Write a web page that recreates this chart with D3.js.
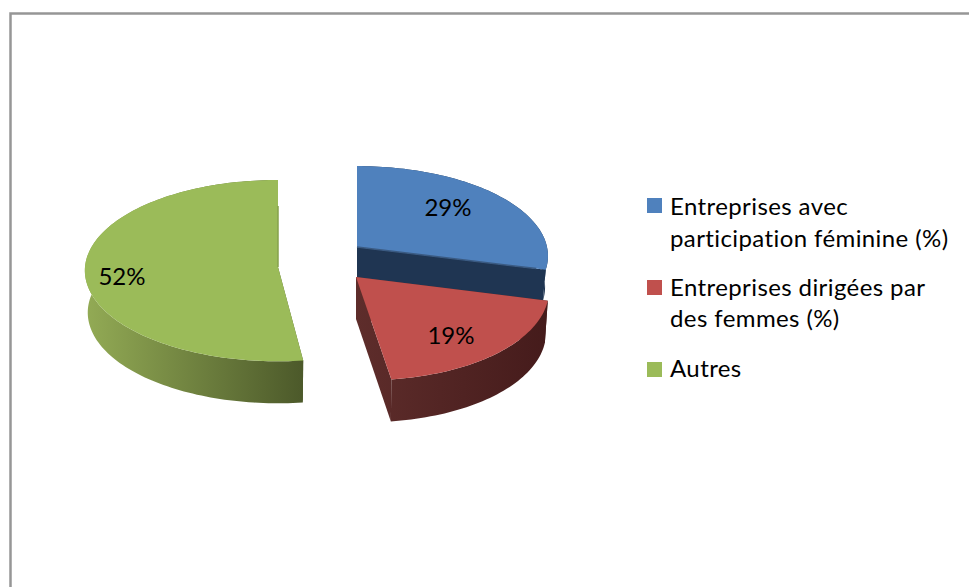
<!DOCTYPE html>
<html>
<head>
<meta charset="utf-8">
<script src="https://cdn.jsdelivr.net/npm/d3@7"></script>
<style>
  html, body { margin: 0; padding: 0; background: #fff; overflow: hidden; }
  text { font-family: Lato, "Open Sans", sans-serif; fill: #000; }
</style>
</head>
<body>
<div id="chart"></div>
<script>
// Chart values
const categories = ["Entreprises avec participation féminine (%)", "Entreprises dirigées par des femmes (%)", "Autres"];
const shares = [29, 19, 52];
const colors = ["#4f81bd", "#c0504d", "#9bbb59"];
const legendLines = [["Entreprises avec", "participation féminine (%)"], ["Entreprises dirigées par", "des femmes (%)"], ["Autres"]];

// Side wall shading, left to right
const wallLeft = ["#1f3552", "#5e2d2b", "#93ab55"];
const wallRight = ["#1f3552", "#451b1b", "#4c592a"];
const edgeColors = ["#3a5a82", null, "#86a24c"];

// Where each exploded slice sits: apex, radii, perspective
const sliceLayout = [
    {cx: 357, cy: 247, rx: 190, ry: 89, k: 0.1, skew: 0, depth: 31, edge: 0.95},
    {cx: 356, cy: 277, rx: 191, ry: 93, k: 0.1, skew: -8, depth: 42, edge: 0},
    {cx: 278, cy: 267, rx: 193, ry: 90.5, k: 0.04, skew: 0, depth: 42, edge: 0.7}
];
const labelPos = [[448, 208], [451, 336], [122, 277]];

const width = 969, height = 587;

const svg = d3.select("#chart").append("svg")
    .attr("width", width)
    .attr("height", height)
    .style("display", "block");

// Chart frame, open on the right and bottom where the picture crops it
svg.append("path")
    .attr("d", d3.line()([[10.5, height], [10.5, 13.5], [width, 13.5]]))
    .attr("fill", "none")
    .attr("stroke", "#969696")
    .attr("stroke-width", 2.5);

const pie = d3.pie().sort(null).value(d => d);
const slices = pie(shares);
const line = d3.line();

// Disc position of angle a (clockwise from the back) projected on screen
function project(s, a) {
    const u = Math.sin(a), v = Math.cos(a), p = 1 + s.k * v;
    return [s.cx + (s.rx * u + s.skew * v) / p, s.cy - s.ry * v / p];
}

const defs = svg.append("defs");
const groups = svg.append("g");

// Blue first, then green, then red in front so it covers the blue wall
[0, 2, 1].forEach(i => {
    const d = slices[i], s = sliceLayout[i];
    const n = Math.ceil((d.endAngle - d.startAngle) * 40);
    const rim = d3.range(n + 1).map(j => project(s, d.startAngle + (d.endAngle - d.startAngle) * j / n));
    const apex = [s.cx, s.cy];
    const drop = p => [s.cx + (p[0] - s.cx) * 0.985, p[1] + s.depth];

    const xs = rim.map(p => p[0]).concat(s.cx);
    const grad = defs.append("linearGradient")
        .attr("id", "wall" + i)
        .attr("gradientUnits", "userSpaceOnUse")
        .attr("x1", d3.min(xs)).attr("x2", d3.max(xs))
        .attr("y1", 0).attr("y2", 0);
    grad.append("stop").attr("offset", 0).attr("stop-color", wallLeft[i]);
    grad.append("stop").attr("offset", 1).attr("stop-color", wallRight[i]);

    const g = groups.append("g");
    const wall = [
        rim.concat(rim.map(drop).reverse()),
        [apex, rim[0], drop(rim[0]), drop(apex)],
        [apex, rim[n], drop(rim[n]), drop(apex)]
    ];
    g.selectAll("path.wall").data(wall).enter().append("path")
        .attr("class", "wall")
        .attr("d", p => line(p) + "Z")
        .attr("fill", "url(#wall" + i + ")");

    g.append("path")
        .attr("d", line([apex].concat(rim)) + "Z")
        .attr("fill", colors[i]);

    // Thin sliver of the cut face showing along the back edge
    if (edgeColors[i]) {
        const from = [apex[0] + s.edge * (rim[n][0] - apex[0]), apex[1] + s.edge * (rim[n][1] - apex[1])];
        g.append("path")
            .attr("d", line([from, apex]))
            .attr("fill", "none")
            .attr("stroke", edgeColors[i])
            .attr("stroke-width", 1.5);
    }
});

// Percent labels
svg.selectAll("text.pct").data(slices).enter().append("text")
    .attr("class", "pct")
    .attr("x", (d, i) => labelPos[i][0])
    .attr("y", (d, i) => labelPos[i][1])
    .attr("dy", "0.35em")
    .attr("text-anchor", "middle")
    .attr("font-size", 24)
    .text(d => d.data + "%");

// Legend
const legendSwatchY = [198, 280, 362];
const legendTextY = [[207, 239], [288, 319], [369]];
const legend = svg.selectAll("g.legend").data(categories).enter().append("g").attr("class", "legend");
legend.append("rect")
    .attr("x", 647)
    .attr("y", (d, i) => legendSwatchY[i])
    .attr("width", 15)
    .attr("height", 15)
    .attr("fill", (d, i) => colors[i]);
legend.each(function(d, i) {
    d3.select(this).selectAll("text").data(legendLines[i]).enter().append("text")
        .attr("x", 670)
        .attr("y", (t, j) => legendTextY[i][j])
        .attr("dy", "0.35em")
        .attr("font-size", 24)
        .attr("letter-spacing", 0.4)
        .text(t => t);
});
</script>
</body>
</html>
